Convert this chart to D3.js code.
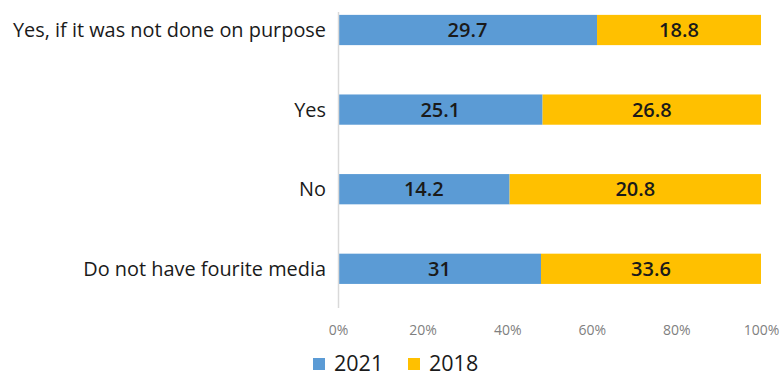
<!DOCTYPE html>
<html>
<head>
<meta charset="utf-8">
<script src="https://cdn.jsdelivr.net/npm/d3@7"></script>
<style>
  html, body { margin: 0; padding: 0; background: #fff; }
  svg { display: block; font-family: "Open Sans", sans-serif; }
</style>
</head>
<body>
<svg id="chart" width="783" height="377"></svg>
<script>
// Survey answers, shown as 100% stacked bars
const categories = [
  "Yes, if it was not done on purpose",
  "Yes",
  "No",
  "Do not have fourite media"
];
const seriesNames = ["2021", "2018"];
const values2021 = [29.7, 25.1, 14.2, 31];
const values2018 = [18.8, 26.8, 20.8, 33.6];
const tickValues = [0, 0.2, 0.4, 0.6, 0.8, 1];
const colors = ["#5B9BD5", "#FFC000"];

const rows = categories.map((c, i) => ({ category: c, "2021": values2021[i], "2018": values2018[i] }));
const stacked = d3.stack().keys(seriesNames).offset(d3.stackOffsetExpand)(rows);

const svg = d3.select("#chart");

const x = d3.scaleLinear().domain([0, 1]).range([338, 761]);
const y = d3.scaleBand().domain(categories).range([-9.8, 308.6]).paddingInner(0.62).paddingOuter(0.31);

// bars
const layers = svg.append("g").selectAll("g")
  .data(stacked).join("g")
  .attr("fill", (d, i) => colors[i]);

layers.selectAll("rect")
  .data(d => d.map(p => ({ p, key: d.key })))
  .join("rect")
  .attr("x", d => x(d.p[0]))
  .attr("width", d => x(d.p[1]) - x(d.p[0]))
  .attr("y", d => y(d.p.data.category))
  .attr("height", y.bandwidth());

// value labels in the middle of each segment
layers.selectAll("text")
  .data(d => d.map(p => ({ p, key: d.key })))
  .join("text")
  .attr("x", d => (x(d.p[0]) + x(d.p[1])) / 2)
  .attr("y", d => y(d.p.data.category) + y.bandwidth() / 2)
  .attr("dy", "0.36em")
  .attr("text-anchor", "middle")
  .attr("fill", "#1a1a1a")
  .attr("font-size", 20)
  .attr("font-weight", 600)
  .text(d => d.p.data[d.key]);

// category axis line
svg.append("line")
  .attr("x1", 338.5).attr("x2", 338.5)
  .attr("y1", 12).attr("y2", 308)
  .attr("stroke", "#d9d9d9").attr("stroke-width", 1.5);

// category labels
svg.append("g").selectAll("text")
  .data(categories).join("text")
  .attr("x", 326)
  .attr("y", d => y(d) + y.bandwidth() / 2)
  .attr("dy", "0.36em")
  .attr("text-anchor", "end")
  .attr("fill", "#1a1a1a")
  .attr("font-size", 19.9)
  .text(d => d);

// percentage axis
const xAxis = svg.append("g")
  .attr("transform", "translate(0,330)")
  .call(d3.axisBottom(x).tickValues(tickValues).tickFormat(d3.format(".0%")).tickSize(0).tickPadding(0));
xAxis.select(".domain").remove();
xAxis.selectAll("text")
  .attr("dy", "0.36em")
  .attr("fill", "#7f7f7f")
  .attr("font-size", 14)
  .attr("font-family", "Open Sans, sans-serif");

// legend
const legend = svg.append("g").attr("transform", "translate(313,363)");
const legendX = [0, 95];
const items = legend.selectAll("g").data(seriesNames).join("g")
  .attr("transform", (d, i) => `translate(${legendX[i]},0)`);
items.append("rect")
  .attr("x", 0).attr("y", -5).attr("width", 12).attr("height", 12)
  .attr("fill", (d, i) => colors[i]);
items.append("text")
  .attr("x", 21).attr("y", 0).attr("dy", "0.36em")
  .attr("fill", "#1a1a1a")
  .attr("font-size", 21.5)
  .text(d => d);
</script>
</body>
</html>
